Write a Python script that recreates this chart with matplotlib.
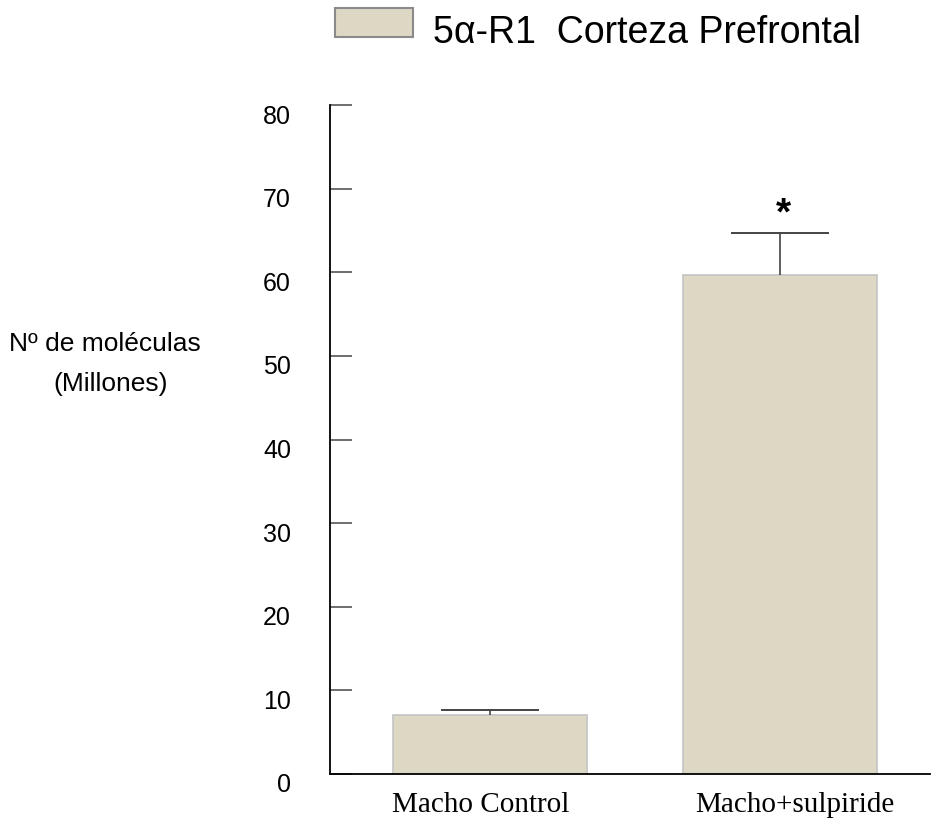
import numpy as np
import matplotlib.pyplot as plt
from matplotlib.patches import Rectangle
from matplotlib.transforms import ScaledTranslation

# Datos
grupos = ["Macho Control", "Macho+sulpiride"]
medias = [7.1, 59.7]
errores = [0.5, 5.0]
marcas = ["", "*"]
yticks = [0, 10, 20, 30, 40, 50, 60, 70, 80]
titulo = "5α-R1  Corteza Prefrontal"

color_barra = "#ddd8c4"

fig = plt.figure(figsize=(9.33, 8.23), dpi=100)
ax = fig.add_axes([330 / 933, 1 - 774 / 823, 600 / 933, (774 - 105) / 823])

x = np.arange(len(grupos))
ax.bar(x, medias, width=0.67, color=color_barra, edgecolor="#c4c4c4", linewidth=1.2)
_, caps, _ = ax.errorbar(x, medias, yerr=[np.zeros(len(errores)), errores], fmt="none",
                         ecolor="#444444", elinewidth=1.2, capsize=35, capthick=1.4)
# solo la barra de error hacia arriba
for c in caps:
    if np.allclose(c.get_ydata(), medias):
        c.set_visible(False)
    else:
        c.set_color("#111111")

for xi, m, e, s in zip(x, medias, errores, marcas):
    if s:
        ax.text(xi + 0.01, m + e + 0.1, s, ha="center", va="bottom", fontsize=28,
                fontweight="bold", family="Liberation Sans")

ax.set_xlim(-0.552, 1.517)
ax.set_ylim(0, 80)
ax.set_yticks(yticks)
ax.set_yticklabels([str(t) for t in yticks], family="Liberation Sans", fontsize=18)
ax.tick_params(axis="y", direction="in", length=16, width=1.2, color="#555555", pad=28)
desplazar = ScaledTranslation(0, -9 / 100, fig.dpi_scale_trans)
for lab in ax.get_yticklabels():
    lab.set_transform(lab.get_transform() + desplazar)

# etiquetas del eje x
ax.set_xticks([-0.031, 1.052])
ax.set_xticklabels(grupos, family="Liberation Serif", fontsize=21)
ax.tick_params(axis="x", length=0, pad=13)

for lado in ["top", "right"]:
    ax.spines[lado].set_visible(False)
ax.spines["left"].set_linewidth(1.3)
ax.spines["bottom"].set_linewidth(1.3)

fig.text(105 / 933, 1 - 344 / 823, "Nº de moléculas", ha="center", va="center",
         fontsize=19, family="Liberation Sans")
fig.text(111 / 933, 1 - 384 / 823, "(Millones)", ha="center", va="center",
         fontsize=19, family="Liberation Sans")

# Leyenda arriba: muestra de color y texto
fig.patches.append(Rectangle((335 / 933, 1 - 37 / 823), 78 / 933, 29 / 823,
                             transform=fig.transFigure, facecolor=color_barra,
                             edgecolor="#8a8a8a", linewidth=1.5))
fig.text(433 / 933, 1 - 43 / 823, titulo, ha="left", va="baseline",
         fontsize=27, family="Liberation Sans")

fig.savefig("out.png", dpi=100)
